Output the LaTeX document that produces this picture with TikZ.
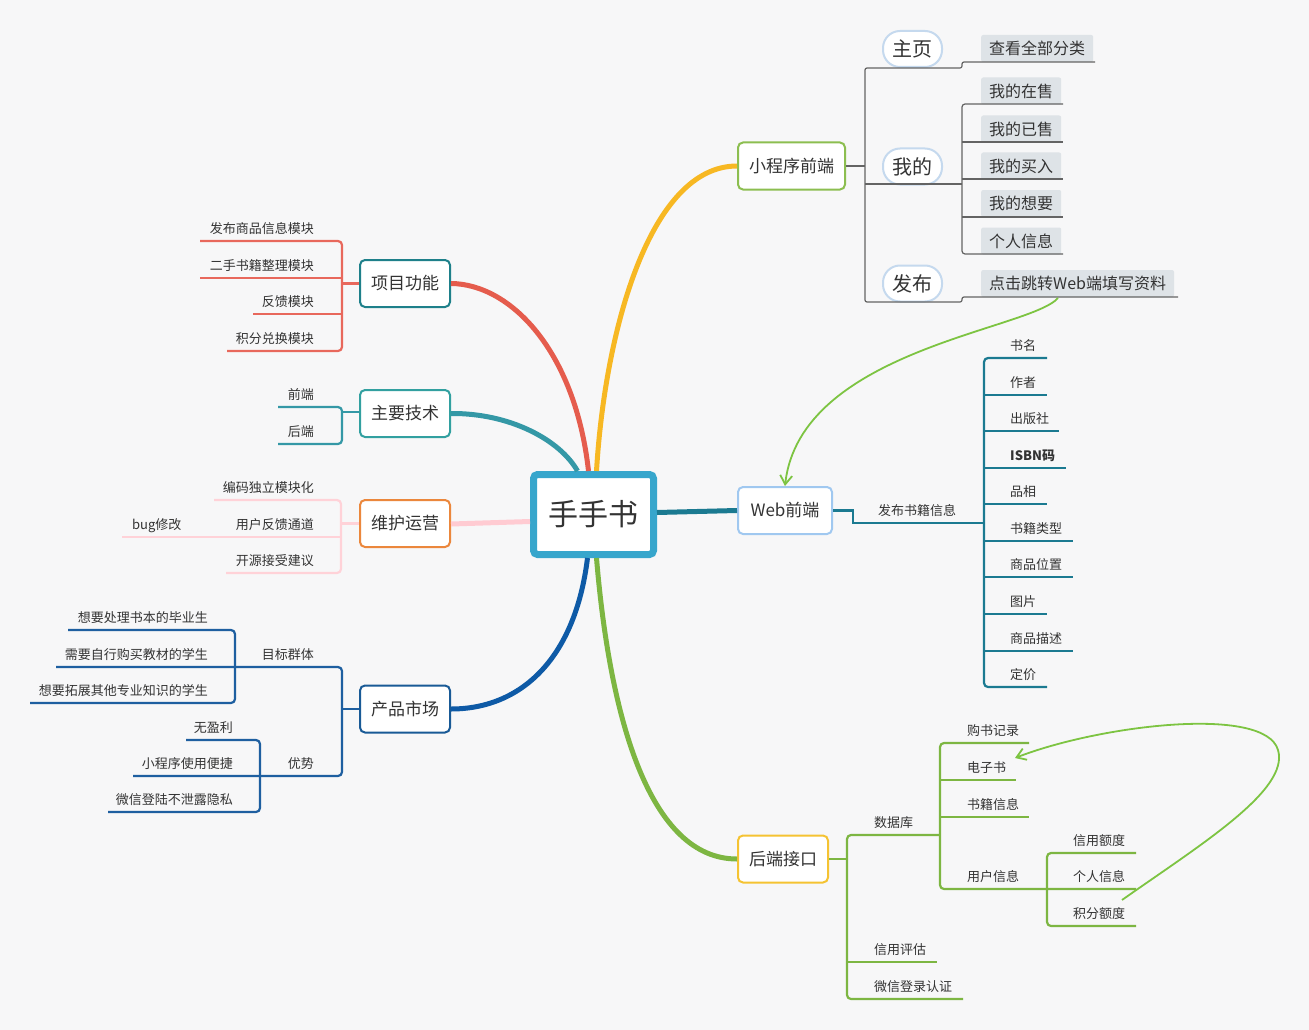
\documentclass[tikz,border=0pt]{standalone}
\usepackage{fontspec}
\setmainfont{Noto Sans CJK SC}
\usetikzlibrary{arrows.meta}
\newcommand{\myfs}[1]{\fontsize{#1}{#1}\selectfont}
\definecolor{bg}{RGB}{247,247,248}
\definecolor{txt}{RGB}{51,51,51}
\definecolor{cred}{RGB}{229,92,77}
\definecolor{lred}{RGB}{232,104,92}
\definecolor{cteal}{RGB}{52,152,166}
\definecolor{cpink}{RGB}{255,203,210}
\definecolor{lpink}{RGB}{255,210,216}
\definecolor{cblue}{RGB}{14,90,166}
\definecolor{lblue}{RGB}{30,95,160}
\definecolor{cyel}{RGB}{247,184,35}
\definecolor{cweb}{RGB}{27,122,145}
\definecolor{cgreen}{RGB}{125,182,66}
\definecolor{carrow}{RGB}{125,196,66}
\definecolor{cgray}{RGB}{100,100,100}
\definecolor{gboxc}{RGB}{222,227,231}
\definecolor{pillc}{RGB}{197,217,238}
\definecolor{rootc}{RGB}{55,166,204}
\definecolor{bxm}{RGB}{30,128,138}
\definecolor{bzy}{RGB}{50,160,160}
\definecolor{bwh}{RGB}{235,135,60}
\definecolor{bcp}{RGB}{25,90,150}
\definecolor{bxc}{RGB}{140,190,80}
\definecolor{bweb}{RGB}{160,200,240}
\definecolor{bhd}{RGB}{245,195,50}
\tikzset{
  rootbox/.style={draw=rootc, line width=7pt, fill=white, rounded corners=4pt, minimum width=120pt, minimum height=80pt, inner sep=0pt, font=\myfs{30}, text=txt},
  topic/.style={draw, line width=2pt, fill=white, rounded corners=5pt, minimum width=90pt, minimum height=47pt, inner sep=0pt, font=\myfs{17}, text=txt},
  pill/.style={draw=pillc, line width=2pt, fill=white, rounded corners=17pt, minimum width=59pt, minimum height=36pt, inner sep=0pt, font=\myfs{20}, text=txt},
  gbox/.style={fill=gboxc, rounded corners=2pt, minimum height=27pt, inner xsep=8pt, inner ysep=0pt, font=\myfs{16}, text=txt, anchor=west},
  leaf/.style={font=\myfs{13}, text=txt, inner sep=0pt},
  mainc/.style={line width=5pt},
  sub/.style={line width=2.2pt},
  grayl/.style={draw=cgray, line width=1.2pt},
  linkarrow/.style={draw=carrow, line width=1.8pt, -{Straight Barb[length=9pt,width=12pt,line width=1.8pt]}}
}
\begin{document}
\begin{tikzpicture}[x=1pt,y=-1pt]
\fill[bg] (0,0) rectangle (1309,1030);
\useasboundingbox (0,0) rectangle (1309,1030);

% ---------- main nodes ----------
\node[rootbox] (root) at (593.5,514.5) {手手书};
\node[topic, draw=bxm] (xm) at (405,283.5) {项目功能};
\node[topic, draw=bzy] (zy) at (405,413.5) {主要技术};
\node[topic, draw=bwh] (wh) at (405,523.5) {维护运营};
\node[topic, draw=bcp] (cp) at (405,709) {产品市场};
\node[topic, draw=bxc, minimum width=107pt] (xcx) at (791.5,166) {小程序前端};
\node[topic, draw=bweb, minimum width=94pt] (web) at (785,510.5) {Web前端};
\node[topic, draw=bhd] (hd) at (783,859) {后端接口};

% ---------- main curves ----------
\draw[mainc, cred] ([xshift=-5pt]root.north) .. controls (575,350) and (510,284) .. (xm.east);
\draw[mainc, cteal] ([xshift=-16pt]root.north) .. controls (560,440) and (510,413) .. (zy.east);
\draw[mainc, cpink] ([yshift=-7pt]root.west) -- ([yshift=-0.5pt]wh.east);
\draw[mainc, cblue] ([xshift=-6pt]root.south) .. controls (575,660) and (520,709) .. (cp.east);
\draw[mainc, cyel] ([xshift=3pt]root.north) .. controls (605,330) and (650,166) .. (xcx.west);
\draw[mainc, cweb] ([yshift=2pt]root.east) -- (web.west);
\draw[mainc, cgreen] ([xshift=3pt]root.south) .. controls (610,720) and (650,859) .. (hd.west);

% ---------- 项目功能 ----------
\coordinate (xmJ) at (342,283.5);
\draw[sub, lred] (xm.west) -- (xmJ);
\draw[sub, lred, rounded corners=4pt] (200,241) -- (342,241) -- (342,351) -- (227,351);
\draw[sub, lred] (200,278) -- (342,278);
\draw[sub, lred] (253,314) -- (342,314);
\node[leaf, anchor=base east] (xm1) at (314,233) {发布商品信息模块};
\node[leaf, anchor=base east] (xm2) at (314,270) {二手书籍整理模块};
\node[leaf, anchor=base east] (xm3) at (314,306) {反馈模块};
\node[leaf, anchor=base east] (xm4) at (314,343) {积分兑换模块};

% ---------- 主要技术 ----------
\coordinate (zyJ) at (342,412);
\draw[sub, cteal] (zy.west |- zyJ) -- (zyJ);
\draw[sub, cteal, rounded corners=4pt] (278,407) -- (342,407) -- (342,444) -- (278,444);
\node[leaf, anchor=base east] (zy1) at (314,399) {前端};
\node[leaf, anchor=base east] (zy2) at (314,436) {后端};

% ---------- 维护运营 ----------
\coordinate (whJ) at (341,523.5);
\draw[sub, lpink] (wh.west) -- (whJ);
\draw[sub, lpink, rounded corners=4pt] (214,500) -- (341,500) -- (341,573) -- (226,573);
\draw[sub, lpink] (122,537) -- (341,537);
\node[leaf, anchor=base east] (wh1) at (314,492) {编码独立模块化};
\node[leaf, anchor=base east] (wh2) at (314,529) {用户反馈通道};
\node[leaf, anchor=base east] (wh3) at (314,565) {开源接受建议};
\node[leaf, anchor=base west] (wh4) at (132,529) {bug修改};

% ---------- 产品市场 ----------
\coordinate (cpJ) at (342,709);
\draw[sub, lblue] (cp.west) -- (cpJ);
\draw[sub, lblue, rounded corners=4pt] (56,667) -- (342,667) -- (342,776) -- (133,776);
\draw[sub, lblue, rounded corners=4pt] (68,630) -- (235,630) -- (235,703) -- (30,703);
\draw[sub, lblue, rounded corners=4pt] (186,740) -- (260,740) -- (260,812) -- (108,812);
\node[leaf, anchor=base east] (cp1) at (314,659) {目标群体};
\node[leaf, anchor=base east] (cp11) at (208,622) {想要处理书本的毕业生};
\node[leaf, anchor=base east] (cp12) at (208,659) {需要自行购买教材的学生};
\node[leaf, anchor=base east] (cp13) at (208,695) {想要拓展其他专业知识的学生};
\node[leaf, anchor=base east] (cp2) at (314,768) {优势};
\node[leaf, anchor=base east] (cp21) at (233,732) {无盈利};
\node[leaf, anchor=base east] (cp22) at (233,768) {小程序使用便捷};
\node[leaf, anchor=base east] (cp23) at (233,804) {微信登陆不泄露隐私};

% ---------- 小程序前端 ----------
\node[pill] (zhuye) at (912.5,49) {主页};
\node[pill] (wode) at (912.5,166.5) {我的};
\node[pill] (fabu) at (912.5,283.5) {发布};
\node[gbox] (g1) at (981,48.5) {查看全部分类};
\node[gbox] (g2) at (981,91) {我的在售};
\node[gbox] (g3) at (981,129) {我的已售};
\node[gbox] (g4) at (981,166) {我的买入};
\node[gbox] (g5) at (981,203.5) {我的想要};
\node[gbox] (g6) at (981,241) {个人信息};
\node[gbox] (g7) at (981,283.5) {点击跳转Web端填写资料};
\coordinate (xcJ) at (865,166);
\draw[grayl] (xcx.east) -- (xcJ);
\draw[grayl, rounded corners=2pt] (1095,62) -- (962,62) -- (962,68) -- (865,68) -- (865,302) -- (962,302) -- (962,297) -- (1178,297);
\draw[grayl] (865,184) -- (962,184);
\draw[grayl, rounded corners=3pt] (1063,104) -- (962,104) -- (962,254) -- (1063,254);
\draw[grayl] (962,142) -- (1063,142);
\draw[grayl] (962,179) -- (1063,179);
\draw[grayl] (962,217) -- (1063,217);

% ---------- Web前端 ----------
\coordinate (webJ) at (984,523);
\draw[sub, cweb] (web.east) -- (853,510.5) -- (853,523) -- (webJ);
\draw[sub, cweb, rounded corners=4pt] (1047,358) -- (984,358) -- (984,687) -- (1047,687);
\draw[sub, cweb] (984,395) -- (1047,395);
\draw[sub, cweb] (984,431) -- (1059,431);
\draw[sub, cweb] (984,468) -- (1066,468);
\draw[sub, cweb] (984,504) -- (1047,504);
\draw[sub, cweb] (984,541) -- (1073,541);
\draw[sub, cweb] (984,577) -- (1073,577);
\draw[sub, cweb] (984,614) -- (1047,614);
\draw[sub, cweb] (984,651) -- (1073,651);
\node[leaf, anchor=base] (w0) at (917,515) {发布书籍信息};
\node[leaf, anchor=base west] (w1) at (1010,350) {书名};
\node[leaf, anchor=base west] (w2) at (1010,387) {作者};
\node[leaf, anchor=base west] (w3) at (1010,423) {出版社};
\node[leaf, anchor=base west, font=\myfs{13}\bfseries] (w4) at (1010,460) {ISBN码};
\node[leaf, anchor=base west] (w5) at (1010,496) {品相};
\node[leaf, anchor=base west] (w6) at (1010,533) {书籍类型};
\node[leaf, anchor=base west] (w7) at (1010,569) {商品位置};
\node[leaf, anchor=base west] (w8) at (1010,606) {图片};
\node[leaf, anchor=base west] (w9) at (1010,643) {商品描述};
\node[leaf, anchor=base west] (w10) at (1010,679) {定价};

% ---------- 后端接口 ----------
\coordinate (hdJ) at (847,859);
\draw[sub, cgreen] (hd.east) -- (hdJ);
\draw[sub, cgreen, rounded corners=4pt] (940,835) -- (847,835) -- (847,999) -- (963,999);
\draw[sub, cgreen] (847,962) -- (937,962);
\draw[sub, cgreen, rounded corners=4pt] (1029,743) -- (940,743) -- (940,889) -- (1136,889);
\draw[sub, cgreen] (940,780) -- (1016,780);
\draw[sub, cgreen] (940,817) -- (1029,817);
\draw[sub, cgreen, rounded corners=4pt] (1136,853) -- (1047,853) -- (1047,926) -- (1136,926);
\node[leaf, anchor=base west] (h1) at (874,827) {数据库};
\node[leaf, anchor=base west] (h2) at (874,954) {信用评估};
\node[leaf, anchor=base west] (h3) at (874,991) {微信登录认证};
\node[leaf, anchor=base west] (h11) at (967,735) {购书记录};
\node[leaf, anchor=base west] (h12) at (967,772) {电子书};
\node[leaf, anchor=base west] (h13) at (967,809) {书籍信息};
\node[leaf, anchor=base west] (h14) at (967,881) {用户信息};
\node[leaf, anchor=base west] (h141) at (1073,845) {信用额度};
\node[leaf, anchor=base west] (h142) at (1073,881) {个人信息};
\node[leaf, anchor=base west] (h143) at (1073,918) {积分额度};

% ---------- link arrows ----------
\coordinate (a1s) at (1058,298);
\draw[linkarrow] (a1s) .. controls (1030,330) and (800,350) .. (web.north);
\coordinate (a2s) at (1122,900);
\coordinate (a2m) at (1278,750);
\coordinate (a2e) at (1015,758);
\draw[linkarrow] (a2s) .. controls (1200,845) and (1290,790) .. (a2m) .. controls (1265,705) and (1100,725) .. (a2e);
\end{tikzpicture}
\end{document}
